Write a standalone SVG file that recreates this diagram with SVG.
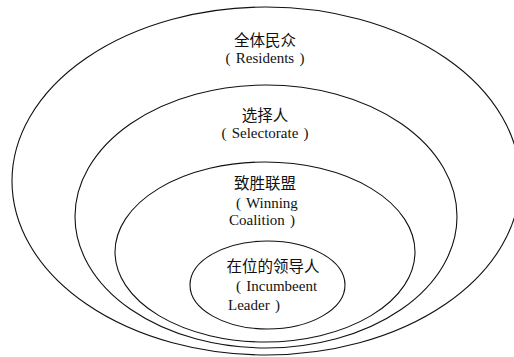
<svg xmlns="http://www.w3.org/2000/svg" width="514" height="357" viewBox="0 0 514 357">
  <style>
    .ring { fill: none; stroke: #111; stroke-width: 1.1; }
    .cn { font-family: "Noto Sans CJK SC", "Noto Sans", sans-serif; font-size: 15.5px; fill: #111; }
    .en { font-family: "Liberation Serif", "DejaVu Serif", serif; font-size: 15px; fill: #111; word-spacing: 1.5px; }
    .mid { text-anchor: middle; }
  </style>
  <rect width="514" height="357" fill="#fff"/>
  <g id="residents">
    <ellipse class="ring" cx="266" cy="181" rx="254" ry="174"/>
    <text class="cn mid" x="265" y="46">全体民众</text>
    <text class="en mid" x="265" y="63">( Residents )</text>
  </g>
  <g id="selectorate">
    <ellipse class="ring" cx="266" cy="216.5" rx="191" ry="131.5"/>
    <text class="cn mid" x="265" y="121">选择人</text>
    <text class="en mid" x="265" y="138">( Selectorate )</text>
  </g>
  <g id="winning-coalition">
    <ellipse class="ring" cx="265" cy="252" rx="150" ry="90"/>
    <text class="cn mid" x="265" y="189">致胜联盟</text>
    <text class="en"><tspan x="236" y="208">( Winning</tspan><tspan x="229" y="225">Coalition )</tspan></text>
  </g>
  <g id="incumbent-leader">
    <ellipse class="ring" cx="267.5" cy="285" rx="77.5" ry="44"/>
    <text class="cn" x="226.5" y="272">在位的领导人</text>
    <text class="en"><tspan x="236" y="291">( Incumbeent</tspan><tspan x="228" y="310">Leader )</tspan></text>
  </g>
  <g id="connectors"/>
</svg>
